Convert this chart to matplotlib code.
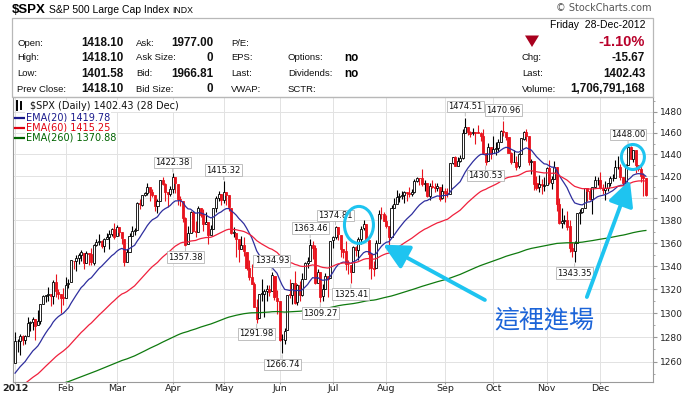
import numpy as np
import matplotlib
matplotlib.use("Agg")
import matplotlib.pyplot as plt
import matplotlib.ticker as mticker
import matplotlib.transforms as mtransforms
from matplotlib.patches import Ellipse, Rectangle, Polygon
from matplotlib.lines import Line2D

# ---- data: $SPX daily, 2012 (Jan 3 .. Dec 28) ----
month_labels = ["2012", "Feb", "Mar", "Apr", "May", "Jun", "Jul", "Aug", "Sep", "Oct", "Nov", "Dec"]
days_per_month = [20, 20, 22, 20, 22, 21, 21, 23, 19, 21, 21, 19]

opens = [
    1258.86, 1277.03, 1277.30, 1280.93, 1277.83, 1280.77, 1292.02, 1292.48, 1294.82, 1290.22, 1293.65, 1308.07, 1314.49, 1315.29, 1315.96, 1314.40, 1326.28, 1318.25, 1316.16, 1313.53,
    1312.45, 1324.24, 1326.21, 1344.32, 1344.33, 1347.04, 1349.97, 1351.21, 1343.06, 1351.30, 1350.52, 1342.61, 1358.06, 1361.22, 1362.11, 1357.53, 1363.46, 1365.20, 1367.56, 1372.20,
    1365.90, 1374.09, 1369.59, 1363.63, 1343.39, 1352.65, 1365.97, 1370.78, 1371.92, 1395.95, 1394.17, 1402.55, 1404.17, 1409.59, 1405.52, 1402.89, 1392.78, 1397.11, 1416.55, 1412.52, 1405.39, 1403.31,
    1408.47, 1418.98, 1413.09, 1398.79, 1397.45, 1382.18, 1358.98, 1368.77, 1387.61, 1370.27, 1369.57, 1390.78, 1385.08, 1376.96, 1378.53, 1366.97, 1372.11, 1390.64, 1400.19, 1403.26,
    1397.86, 1405.50, 1402.32, 1391.51, 1368.79, 1369.16, 1363.20, 1354.58, 1358.11, 1351.93, 1338.36, 1330.78, 1324.82, 1305.05, 1295.73, 1316.09, 1316.02, 1318.72, 1320.64, 1318.90, 1331.25, 1313.09,
    1309.87, 1278.29, 1277.82, 1285.61, 1316.15, 1314.99, 1325.72, 1309.40, 1324.02, 1314.88, 1329.19, 1342.42, 1344.83, 1357.98, 1355.43, 1325.92, 1334.90, 1314.09, 1320.71, 1331.52, 1330.12,
    1362.33, 1365.75, 1373.72, 1367.09, 1354.66, 1352.96, 1341.40, 1341.29, 1334.81, 1356.50, 1353.68, 1363.58, 1373.01, 1376.51, 1362.34, 1350.52, 1338.35, 1338.17, 1360.05, 1385.94, 1385.27,
    1379.32, 1375.13, 1365.45, 1391.04, 1394.46, 1401.23, 1402.26, 1402.58, 1405.87, 1404.36, 1403.89, 1405.57, 1415.84, 1417.85, 1418.13, 1413.09, 1413.49, 1401.99, 1411.13, 1410.44, 1409.32, 1410.08, 1400.07,
    1406.54, 1404.94, 1403.74, 1432.12, 1437.92, 1429.13, 1433.56, 1436.56, 1460.07, 1465.42, 1461.19, 1459.50, 1461.05, 1460.34, 1459.76, 1456.94, 1441.60, 1433.36, 1447.13,
    1440.90, 1444.99, 1446.05, 1451.08, 1461.40, 1460.93, 1455.90, 1441.48, 1432.82, 1432.84, 1428.75, 1440.31, 1454.22, 1460.94, 1457.34, 1433.21, 1433.74, 1413.20, 1409.74, 1412.97, 1410.99,
    1412.20, 1427.59, 1414.02, 1417.26, 1428.27, 1394.53, 1377.55, 1379.86, 1380.03, 1374.64, 1355.41, 1353.36, 1359.88, 1386.82, 1387.79, 1391.03, 1409.15, 1406.29, 1398.77, 1409.96, 1415.95,
    1416.34, 1409.46, 1407.05, 1409.43, 1413.95, 1418.07, 1418.55, 1427.84, 1428.48, 1419.45, 1413.54, 1430.47, 1446.79, 1435.81, 1443.67, 1430.15, 1426.66, 1419.83, 1418.10,
]
highs = [
    1284.62, 1278.73, 1283.05, 1281.84, 1281.99, 1296.46, 1293.80, 1296.82, 1294.82, 1303.00, 1308.11, 1315.49, 1315.38, 1322.28, 1315.96, 1328.30, 1333.47, 1320.06, 1316.16, 1321.41,
    1330.52, 1329.19, 1345.34, 1344.36, 1349.24, 1351.00, 1354.32, 1351.21, 1353.35, 1351.30, 1355.87, 1359.02, 1363.40, 1367.76, 1362.70, 1364.24, 1368.92, 1371.94, 1373.09, 1378.04,
    1376.17, 1374.53, 1369.59, 1363.63, 1354.85, 1368.72, 1374.76, 1373.04, 1396.13, 1399.42, 1402.63, 1405.88, 1414.00, 1409.59, 1407.75, 1402.89, 1399.18, 1416.58, 1419.15, 1413.65, 1405.39, 1410.89,
    1422.38, 1419.00, 1413.09, 1401.60, 1397.45, 1383.01, 1374.71, 1388.13, 1387.61, 1379.66, 1392.76, 1390.78, 1390.46, 1387.40, 1378.53, 1375.57, 1391.37, 1402.09, 1406.64, 1403.26,
    1415.32, 1405.50, 1403.07, 1391.51, 1373.91, 1369.16, 1363.73, 1365.88, 1365.66, 1351.93, 1344.94, 1341.78, 1326.36, 1312.24, 1316.39, 1328.49, 1320.71, 1324.14, 1324.20, 1334.93, 1331.25, 1319.74,
    1309.87, 1282.55, 1287.62, 1315.13, 1329.05, 1325.81, 1335.52, 1324.31, 1327.28, 1333.68, 1343.32, 1348.22, 1363.46, 1361.57, 1358.27, 1337.82, 1334.90, 1324.24, 1334.40, 1331.52, 1362.17,
    1366.35, 1374.81, 1373.85, 1367.09, 1354.87, 1361.54, 1345.00, 1341.29, 1357.70, 1357.26, 1365.36, 1375.26, 1380.39, 1376.51, 1362.34, 1351.53, 1343.98, 1363.13, 1389.19, 1391.74, 1387.16,
    1385.03, 1375.13, 1394.16, 1399.63, 1407.14, 1404.14, 1405.95, 1405.98, 1405.87, 1410.03, 1407.73, 1417.44, 1418.71, 1418.13, 1426.68, 1416.12, 1413.49, 1413.46, 1416.17, 1413.63, 1413.95, 1410.08, 1413.09,
    1409.31, 1408.81, 1432.12, 1437.92, 1438.74, 1437.76, 1439.15, 1463.76, 1474.51, 1465.63, 1461.47, 1465.05, 1461.23, 1467.07, 1460.72, 1463.24, 1441.60, 1450.20, 1447.13,
    1457.14, 1451.52, 1454.30, 1463.14, 1470.96, 1460.93, 1455.90, 1442.52, 1443.90, 1438.43, 1441.31, 1455.51, 1462.20, 1464.02, 1457.34, 1435.46, 1433.74, 1420.04, 1421.12, 1417.09, 1418.76,
    1428.35, 1434.27, 1419.90, 1433.38, 1428.27, 1399.63, 1391.39, 1384.87, 1388.81, 1380.13, 1360.62, 1362.03, 1386.89, 1389.77, 1391.25, 1409.16, 1409.15, 1409.01, 1410.31, 1419.70, 1418.86,
    1423.73, 1413.14, 1415.56, 1413.95, 1420.34, 1421.64, 1434.27, 1438.59, 1431.36, 1419.45, 1430.67, 1448.00, 1447.75, 1443.70, 1443.67, 1430.15, 1429.42, 1422.80, 1418.10,
]
lows = [
    1258.86, 1268.10, 1265.26, 1273.34, 1274.55, 1280.77, 1285.41, 1285.77, 1277.58, 1290.22, 1290.99, 1308.07, 1309.17, 1309.89, 1306.06, 1307.65, 1313.60, 1311.72, 1300.49, 1306.69,
    1312.45, 1321.57, 1326.21, 1337.52, 1335.92, 1341.95, 1344.63, 1337.35, 1343.06, 1340.83, 1340.80, 1341.22, 1357.24, 1358.11, 1355.53, 1352.28, 1363.46, 1354.92, 1365.97, 1363.81,
    1365.90, 1366.42, 1359.13, 1340.03, 1343.39, 1352.65, 1365.97, 1366.69, 1371.92, 1389.97, 1392.78, 1401.47, 1402.43, 1397.68, 1400.64, 1388.73, 1386.87, 1397.11, 1411.95, 1397.20, 1391.56, 1401.42,
    1404.46, 1404.62, 1394.09, 1392.92, 1378.24, 1357.38, 1358.98, 1368.77, 1369.85, 1365.38, 1369.57, 1383.29, 1370.30, 1376.96, 1358.79, 1366.82, 1372.11, 1387.28, 1397.31, 1394.00,
    1395.73, 1393.92, 1388.71, 1367.96, 1365.34, 1347.75, 1343.13, 1354.58, 1348.89, 1336.61, 1328.41, 1324.79, 1304.86, 1291.98, 1295.73, 1310.04, 1296.53, 1310.50, 1314.23, 1318.90, 1310.76, 1298.90,
    1277.25, 1266.74, 1274.16, 1285.61, 1312.68, 1307.77, 1307.73, 1306.62, 1310.51, 1314.14, 1329.19, 1338.61, 1344.83, 1346.45, 1324.41, 1325.92, 1309.27, 1310.30, 1320.71, 1313.29, 1330.12,
    1355.70, 1363.53, 1363.02, 1348.03, 1346.65, 1336.27, 1333.25, 1325.41, 1334.81, 1348.51, 1345.07, 1358.96, 1371.21, 1362.19, 1337.56, 1329.24, 1331.50, 1338.17, 1360.05, 1381.37, 1379.17,
    1373.35, 1354.65, 1365.45, 1391.04, 1394.46, 1396.13, 1398.80, 1395.62, 1397.32, 1400.60, 1401.83, 1404.15, 1414.67, 1412.12, 1410.86, 1406.78, 1400.50, 1398.04, 1409.11, 1405.59, 1406.57, 1397.01, 1398.96,
    1396.56, 1401.25, 1403.74, 1431.45, 1428.98, 1429.13, 1432.99, 1435.34, 1460.07, 1457.55, 1456.13, 1457.88, 1449.98, 1459.51, 1452.06, 1441.59, 1430.53, 1433.36, 1435.60,
    1440.90, 1439.01, 1441.99, 1451.08, 1456.89, 1453.10, 1441.18, 1430.64, 1432.82, 1425.53, 1427.24, 1440.31, 1453.35, 1452.63, 1429.85, 1422.06, 1407.56, 1407.10, 1405.14, 1403.28, 1405.95,
    1412.20, 1412.91, 1408.13, 1417.26, 1388.14, 1377.05, 1373.03, 1377.19, 1371.39, 1352.50, 1348.05, 1343.35, 1359.88, 1377.04, 1386.39, 1391.03, 1397.68, 1398.03, 1385.43, 1409.04, 1411.63,
    1408.46, 1403.65, 1398.23, 1405.93, 1410.90, 1415.64, 1418.55, 1426.76, 1416.00, 1411.88, 1413.54, 1430.47, 1435.80, 1432.82, 1422.58, 1424.66, 1414.76, 1401.80, 1401.58,
]
closes = [
    1277.06, 1277.30, 1281.06, 1277.81, 1280.70, 1292.08, 1292.48, 1295.50, 1289.09, 1293.67, 1308.04, 1314.50, 1315.38, 1316.00, 1314.65, 1326.06, 1318.43, 1316.33, 1313.01, 1312.41,
    1324.09, 1325.54, 1344.90, 1344.33, 1347.05, 1349.96, 1351.95, 1342.64, 1351.77, 1350.50, 1343.23, 1358.04, 1361.23, 1362.21, 1357.66, 1363.46, 1365.74, 1367.59, 1372.18, 1365.68,
    1374.09, 1369.63, 1364.33, 1343.36, 1352.63, 1365.91, 1370.87, 1371.09, 1395.95, 1394.28, 1402.60, 1404.17, 1409.75, 1405.52, 1402.89, 1392.78, 1397.11, 1416.51, 1412.52, 1405.54, 1403.28, 1408.47,
    1419.04, 1413.38, 1398.96, 1398.08, 1382.20, 1358.59, 1368.71, 1387.57, 1370.26, 1369.57, 1390.78, 1385.14, 1376.92, 1378.53, 1366.94, 1371.97, 1390.69, 1399.98, 1403.36, 1397.91,
    1405.82, 1402.31, 1391.57, 1369.10, 1369.58, 1363.72, 1354.58, 1357.99, 1353.39, 1338.35, 1330.66, 1324.80, 1304.86, 1295.22, 1315.99, 1316.63, 1318.86, 1320.68, 1317.82, 1332.42, 1313.32, 1310.33,
    1278.04, 1278.18, 1285.50, 1315.13, 1314.99, 1325.66, 1308.93, 1324.18, 1314.88, 1329.10, 1342.84, 1344.78, 1357.98, 1355.69, 1325.51, 1335.02, 1313.72, 1319.99, 1331.85, 1329.04, 1362.16,
    1365.51, 1374.02, 1367.58, 1354.68, 1352.46, 1341.47, 1341.45, 1334.76, 1356.78, 1353.64, 1363.67, 1372.78, 1376.51, 1362.66, 1350.52, 1338.31, 1337.89, 1360.02, 1385.97, 1385.30, 1379.32,
    1375.32, 1365.00, 1390.99, 1394.23, 1401.35, 1402.22, 1402.80, 1405.87, 1404.11, 1403.93, 1405.53, 1415.51, 1418.16, 1418.13, 1413.17, 1413.49, 1402.08, 1411.13, 1410.44, 1409.30, 1410.49, 1399.48, 1406.58,
    1404.94, 1403.44, 1432.12, 1437.92, 1429.08, 1433.56, 1436.56, 1459.99, 1465.77, 1461.19, 1459.32, 1461.05, 1460.26, 1460.15, 1456.89, 1441.59, 1433.32, 1447.15, 1440.67,
    1444.49, 1445.75, 1450.99, 1461.40, 1460.93, 1455.88, 1441.48, 1432.56, 1432.84, 1428.59, 1440.13, 1454.92, 1460.91, 1457.34, 1433.19, 1433.82, 1413.11, 1408.75, 1412.97, 1411.94, 1412.16,
    1427.59, 1414.20, 1417.26, 1428.39, 1394.53, 1377.51, 1379.85, 1380.03, 1374.53, 1355.49, 1353.33, 1359.88, 1386.89, 1387.81, 1391.03, 1409.15, 1406.29, 1398.94, 1409.93, 1415.95, 1416.18,
    1409.46, 1407.05, 1409.28, 1413.94, 1418.07, 1418.55, 1427.84, 1428.48, 1419.45, 1413.58, 1430.36, 1446.79, 1435.81, 1443.69, 1430.15, 1426.66, 1419.83, 1418.10, 1402.43,
]
close_before_start = 1257.60

ema_periods = [20, 60, 260]
ema_seeds = [1248.0, 1236.0, 1233.0]
ema_colors = ["#2e2e9e", "#f0203c", "#0f7a0f"]
ema_text_colors = ["#1a1a8c", "#e00010", "#006400"]
ema_legend = ["EMA(20) 1419.78", "EMA(60) 1415.25", "EMA(260) 1370.88"]

# bars whose high / low gets a value tag
high_tag_days = [62, 82, 101, 116, 126, 177, 192, 241]
low_tag_days = [67, 95, 105, 120, 132, 185, 220]

W, H = 687, 395
RED = "#e8141e"
CYAN = "#1ec4f0"


def ema(values, span, seed):
    a = 2.0 / (span + 1)
    out, prev = [], seed
    for v in values:
        prev = prev + a * (v - prev)
        out.append(prev)
    return np.array(out)


def fx(px):
    return px / W


def fy(py):
    return 1 - py / H


o = np.array(opens)
h = np.array(highs)
l = np.array(lows)
c = np.array(closes)
n = len(c)
x = np.arange(n)
prev_c = np.r_[close_before_start, c[:-1]]
month_starts = np.r_[0, np.cumsum(days_per_month)[:-1]]

fig = plt.figure(figsize=(W / 100, H / 100), dpi=100)
ax = fig.add_axes([fx(13), fy(381.7), fx(640), (381.7 - 97) / H])
ax.set_yscale("log")
ax.set_xlim(-0.8, 250.8)
ax.set_ylim(1243.9, 1494.1)

# grid
ax.yaxis.set_major_locator(mticker.FixedLocator(np.arange(1260, 1481, 20)))
ax.yaxis.set_minor_locator(mticker.FixedLocator(np.arange(1250, 1491, 20)))
ax.yaxis.set_major_formatter(mticker.FormatStrFormatter("%d"))
ax.yaxis.set_minor_formatter(mticker.NullFormatter())
ax.set_xticks(month_starts)
ax.set_xticklabels(month_labels)
ax.get_xticklabels()[0].set_fontweight("bold")
ax.grid(True, which="major", color="#e2e2e2", lw=0.7, zorder=0)
ax.set_axisbelow(True)
ax.yaxis.tick_right()
ax.tick_params(axis="y", which="major", length=3, pad=2, labelsize=6.5, color="#999999", labelcolor="#222222")
ax.tick_params(axis="y", which="minor", length=1.5, color="#999999")
ax.tick_params(axis="x", length=1.5, pad=0.5, labelsize=6.8, color="#999999", labelcolor="#222222")
for s in ax.spines.values():
    s.set_color("#9a9a9a")
    s.set_linewidth(0.8)

# EMAs
for per, seed, col in zip(ema_periods, ema_seeds, ema_colors):
    ax.plot(x, ema(c, per, seed), color=col, lw=0.9, zorder=5)

# candles
cols = np.where(c >= prev_c, "black", RED)
faces = np.where(c > o, "white", cols)
ax.vlines(x, l, h, colors=cols, lw=0.8, zorder=3)
ax.bar(x, np.maximum(np.abs(c - o), 0.3), bottom=np.minimum(o, c), width=0.8,
       color=faces, edgecolor=cols, lw=0.6, zorder=4)

# value tags
tag_kw = dict(textcoords="offset pixels", ha="center", va="center", fontsize=6,
              family="DejaVu Sans", color="#111111", zorder=8,
              bbox=dict(boxstyle="square,pad=0.15", fc="white", ec="#b4b4b4", lw=0.6),
              arrowprops=dict(arrowstyle="-", color="#b4b4b4", lw=0.6, shrinkA=0, shrinkB=1))
for d in high_tag_days:
    ax.annotate(f"{h[d]:.2f}", xy=(d, h[d]), xytext=(0, 11), **tag_kw)
for d in low_tag_days:
    ax.annotate(f"{l[d]:.2f}", xy=(d, l[d]), xytext=(0, -11), **tag_kw)

# circles, arrows and note
for (cx, cy, wpx, hpx) in [(135.2, 1376.0, 29, 37), (242.9, 1437.5, 23, 25)]:
    tr = fig.dpi_scale_trans + mtransforms.ScaledTranslation(cx, cy, ax.transData)
    ax.add_patch(Ellipse((0, 0), wpx / 100, hpx / 100, transform=tr, fill=False,
                         ec=CYAN, lw=2.2, zorder=9))
arrow_kw = dict(arrowstyle="-|>,head_width=0.55,head_length=1.1", color=CYAN, lw=2.8,
                mutation_scale=14, shrinkA=0, shrinkB=0)
ax.annotate("", xy=(144.7, 1358.6), xytext=(184.7, 1311.1), arrowprops=arrow_kw, zorder=9)
ax.annotate("", xy=(241.7, 1416.3), xytext=(224.8, 1313.6), arrowprops=arrow_kw, zorder=9)
ax.text(207.9, 1294.3, "這裡進場", fontsize=18, color="#1c64d8", ha="center", va="center",
        family=["Noto Sans CJK TC", "DejaVu Sans"], zorder=9)

# legend inside the plot
fig.text(fx(30), fy(106), "$SPX (Daily) 1402.43 (28 Dec)", fontsize=7, va="center",
         family="DejaVu Sans", color="#111111",
         bbox=dict(boxstyle="square,pad=0.1", fc="white", ec="none"))
for k in range(3):
    yy = 117.5 + 10 * k
    fig.add_artist(Line2D([fx(15), fx(24.5)], [fy(yy), fy(yy)], color=ema_text_colors[k], lw=1.6))
    fig.text(fx(26), fy(yy), ema_legend[k], fontsize=7, va="center", family="DejaVu Sans",
             color=ema_text_colors[k], bbox=dict(boxstyle="square,pad=0.1", fc="white", ec="none"))
for xs, y0, y1 in [(17, 101, 110), (20.5, 102, 109)]:
    fig.add_artist(Line2D([fx(xs), fx(xs)], [fy(y0), fy(y1)], color="black", lw=1.4))

# header
hf = "Liberation Sans"
fig.text(fx(12), fy(10), "$SPX", fontsize=9.5, fontweight="bold", family=hf, va="center")
fig.text(fx(49), fy(10), "S&P 500 Large Cap Index", fontsize=7.5, family=hf, va="center")
fig.text(fx(172), fy(10.5), "INDX", fontsize=6.3, family=hf, va="center")
fig.text(fx(652), fy(8), "\u00a9 StockCharts.com", fontsize=7, family="DejaVu Sans",
         color="#555555", ha="right", va="center")
fig.add_artist(Rectangle((fx(12.5), fy(97)), fx(640.5), (97 - 18) / H, transform=fig.transFigure,
                         fill=False, ec="#b8b8b8", lw=0.9))

rows = [43, 58, 74, 89]
lab = dict(fontsize=6.8, family=hf, va="center", color="#111111")
val = dict(fontsize=8.4, family=hf, fontweight="bold", va="center", ha="right", color="#111111")
for y, a, b in zip(rows, ["Open:", "High:", "Low:", "Prev Close:"], ["1418.10", "1418.10", "1401.58", "1418.10"]):
    fig.text(fx(17), fy(y), a, **lab)
    fig.text(fx(123), fy(y), b, **val)
for y, a, b in zip(rows, ["Ask:", "Ask Size:", "Bid:", "Bid Size:"], ["1977.00", "0", "1966.81", "0"]):
    fig.text(fx(136), fy(y), a, **lab)
    fig.text(fx(213), fy(y), b, **val)
for y, a in zip(rows, ["P/E:", "EPS:", "Last:", "VWAP:"]):
    fig.text(fx(231), fy(y), a, **lab)
for y, a in zip(rows[1:], ["Options:", "Dividends:", "SCTR:"]):
    fig.text(fx(288), fy(y), a, **lab)
for y in rows[1:3]:
    fig.text(fx(344), fy(y), "no", fontsize=8.4, family=hf, fontweight="bold", va="center")

fig.text(fx(645), fy(25.5), "Friday  28-Dec-2012", fontsize=7.5, family=hf, ha="right", va="center")
fig.text(fx(645), fy(42), "-1.10%", fontsize=10.5, family=hf, fontweight="bold", color="#b8002a",
         ha="right", va="center")
fig.add_artist(Polygon([[fx(525), fy(35.5)], [fx(539), fy(35.5)], [fx(532), fy(47)]],
                       closed=True, transform=fig.transFigure, fc="#a8001e", ec="none"))
for y, a, b in zip(rows[1:], ["Chg:", "Last:", "Volume:"], ["-15.67", "1402.43", "1,706,791,168"]):
    fig.text(fx(522), fy(y), a, **lab)
    fig.text(fx(645), fy(y), b, **val)

fig.savefig("out.png", dpi=100)
